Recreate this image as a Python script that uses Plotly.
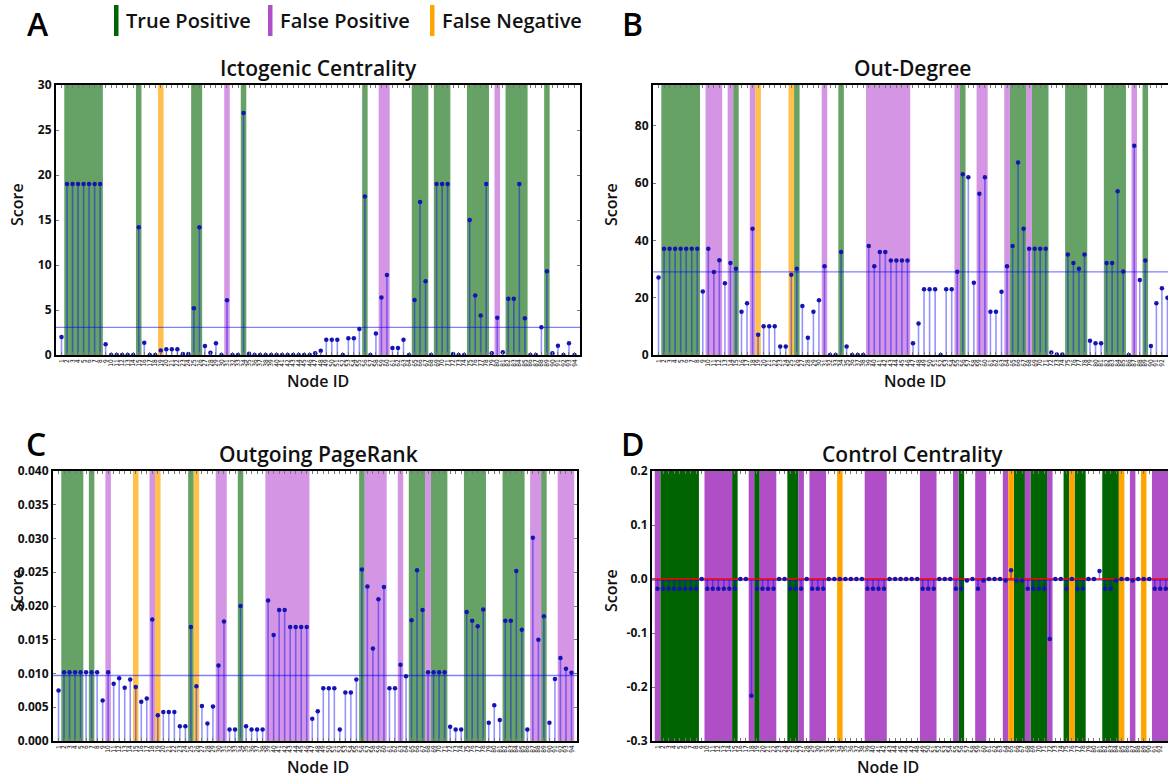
import plotly.graph_objects as go

# ---------------- data ----------------
NODE_IDS = ["1", "2", "3", "4", "5", "6", "7", "8", "9", "10", "11", "12", "13", "14", "15", "16",
            "17", "18", "19", "20", "21", "22", "23", "24", "25", "26", "27", "28", "29", "30", "31",
            "32", "33", "34", "35", "36", "37", "38", "39", "40", "41", "42", "43", "44", "45", "46",
            "47", "48", "49", "50", "51", "52", "53", "54", "55", "56", "57", "58", "59", "60", "61",
            "62", "63", "64", "65", "66", "67", "68", "69", "70", "71", "72", "73", "74", "75", "76",
            "77", "78", "79", "80", "81", "82", "83", "84", "85", "86", "87", "88", "89", "90", "91",
            "92", "93", "94"]

ICTOGENIC = [2.0, 19, 19, 19, 19, 19, 19, 19, 1.2, 0, 0, 0, 0, 0, 14.2, 1.35, 0, 0, 0.5, 0.63,
             0.63, 0.63, 0.1, 0.1, 5.2, 14.2, 1.0, 0.26, 1.3, 0, 6.07, 0, 0, 26.9, 0.15, 0, 0, 0,
             0, 0, 0, 0, 0, 0, 0, 0, 0.2, 0.48, 1.7, 1.7, 1.7, 0, 1.85, 1.85, 2.9, 17.6, 0, 2.4,
             6.4, 8.9, 0.78, 0.78, 1.7, 0, 6.1, 17.0, 8.2, 0, 19, 19, 19, 0.1, 0, 0, 15.0, 6.6,
             4.4, 19.0, 0.2, 4.15, 0.3, 6.26, 6.26, 19.0, 4.07, 0, 0, 3.07, 9.3, 0.2, 1.04, 0,
             1.3, 0]
ICTO_TP = [1, 2, 3, 4, 5, 6, 7, 14, 24, 25, 33, 55, 64, 65, 66, 68, 69, 70, 74, 75, 76, 77,
           81, 82, 83, 84, 88]
ICTO_FP = [30, 58, 59, 79]
ICTO_FN = [18]
ICTO_THRESH = 3.07

OUTDEGREE = [27.1, 37.1, 37.1, 37.1, 37.1, 37.1, 37.1, 37.1, 22.2, 37.1, 29.0, 33.1, 25.1, 32.1,
             30.1, 15.1, 18.1, 44.1, 7.1, 10, 10, 10, 3, 3, 28, 30.1, 17.1, 6, 15.1, 19.1, 31, 0,
             0, 36, 3, 0, 0, 0, 38.1, 31, 36, 36, 33, 33, 33, 33, 4.1, 11, 23, 23, 23, 0, 23, 23,
             29.1, 63.1, 62.1, 25.2, 56.3, 62.1, 15.1, 15.1, 22.1, 31, 38.1, 67.2, 44.1, 37.1,
             37.1, 37.1, 37.1, 0.9, 0.2, 0.2, 35.1, 32.1, 30.1, 35.1, 5.0, 4.1, 4.1, 32.1, 32.1,
             57.2, 29.2, 0, 73.1, 26.2, 33, 3.1, 18.1, 23.3, 20.0, 14.0]
OUT_TP = [1, 2, 3, 4, 5, 6, 7, 14, 25, 33, 55, 64, 65, 66, 68, 69, 70, 74, 75, 76, 77, 81, 82,
          83, 84, 88]
OUT_FP = [9, 10, 11, 13, 17, 30, 38, 39, 40, 41, 42, 43, 44, 45, 54, 58, 59, 63, 67, 86]
OUT_FN = [18, 24]
OUT_THRESH = 29.0

PAGERANK = [0.0075, 0.0102, 0.0102, 0.0102, 0.0102, 0.0102, 0.0102, 0.0102, 0.0060, 0.0102,
            0.0085, 0.0093, 0.0079, 0.0091, 0.0080, 0.0058, 0.0063, 0.0180, 0.0038, 0.0043,
            0.0043, 0.0043, 0.0022, 0.0022, 0.0169, 0.0081, 0.0052, 0.0026, 0.0051, 0.0112,
            0.0177, 0.0017, 0.0017, 0.0200, 0.0022, 0.0017, 0.0017, 0.0017, 0.0208, 0.0157,
            0.0194, 0.0194, 0.0169, 0.0169, 0.0169, 0.0169, 0.0033, 0.0044, 0.0078, 0.0078,
            0.0078, 0.0017, 0.0072, 0.0072, 0.0091, 0.0254, 0.0229, 0.0137, 0.0210, 0.0228,
            0.0078, 0.0078, 0.0113, 0.0096, 0.0179, 0.0253, 0.0194, 0.0102, 0.0102, 0.0102,
            0.0102, 0.0021, 0.0017, 0.0017, 0.0191, 0.0178, 0.0170, 0.0195, 0.0027, 0.0053,
            0.0031, 0.0178, 0.0178, 0.0252, 0.0165, 0.0017, 0.0301, 0.0150, 0.0185, 0.0027,
            0.0092, 0.0123, 0.0107, 0.0101]
PR_TP = [1, 2, 3, 4, 6, 24, 33, 55, 64, 65, 66, 68, 69, 70, 74, 75, 76, 77, 81, 82, 83, 84, 88]
PR_FP = [9, 17, 29, 30, 38, 39, 40, 41, 42, 43, 44, 45, 56, 57, 58, 59, 62, 67, 86, 87, 91, 92, 93]
PR_FN = [14, 18, 25]
PR_THRESH = 0.0097

CONTROL = [-0.018, -0.018, -0.018, -0.018, -0.018, -0.018, -0.018, -0.018, 0, -0.018, -0.018,
           -0.018, -0.018, -0.018, -0.018, 0, 0, -0.216, -0.018, -0.018, -0.018, -0.018, 0, 0,
           -0.018, -0.018, -0.018, 0, -0.018, -0.018, -0.018, 0, 0, 0, 0, 0, 0, 0, -0.018,
           -0.018, -0.018, -0.018, 0, 0, 0, 0, 0, 0, -0.018, -0.018, -0.018, 0, 0, 0, -0.018,
           -0.018, -0.003, 0, -0.018, -0.003, 0, 0, 0, -0.003, 0.016, -0.003, -0.003, -0.018,
           -0.018, -0.018, -0.018, -0.111, 0, 0, -0.018, 0, -0.018, -0.018, 0, 0, 0.015,
           -0.018, -0.018, -0.003, 0, 0, -0.003, 0, 0, 0, -0.018, -0.018, -0.018, -0.018]
CC_TP = [1, 2, 3, 4, 5, 6, 7, 14, 18, 24, 25, 55, 65, 66, 68, 69, 70, 74, 76, 77, 81, 82, 83]
CC_FP = [0, 9, 10, 11, 12, 13, 17, 19, 20, 21, 26, 28, 29, 30, 38, 39, 40, 41, 48, 49, 50, 54,
         58, 59, 63, 67, 71, 86, 90, 91, 92, 93]
CC_FN = [33, 64, 75, 84, 88]
CC_THRESH = -0.002

TITLES = ["Ictogenic Centrality", "Out-Degree", "Outgoing PageRank", "Control Centrality"]
LETTERS = ["A", "B", "C", "D"]
LEGEND_LABELS = ["True Positive", "False Positive", "False Negative"]

# ---------------- styling ----------------
W, H = 1168, 777
FONT = "Open Sans"
SOFT = {"TP": "rgba(0,100,0,0.6)", "FP": "rgba(186,85,211,0.62)", "FN": "rgba(255,165,0,0.7)"}
SOLID = {"TP": "rgb(0,100,0)", "FP": "rgb(176,78,200)", "FN": "rgb(255,165,0)"}


def px2x(p):
    return p / W


def px2y(p):
    return 1 - p / H


def runs(indices):
    """group sorted node indices into contiguous runs"""
    out = []
    for i in sorted(indices):
        if out and i == out[-1][1] + 1:
            out[-1][1] = i
        else:
            out.append([i, i])
    return out


panels = [
    dict(vals=ICTOGENIC, tp=ICTO_TP, fp=ICTO_FP, fn=ICTO_FN, th=ICTO_THRESH,
         xd=(56, 580), yd=(85, 355), xr=[-1, 94], yr=[0, 30],
         ytick=dict(tickvals=[0, 5, 10, 15, 20, 25, 30]), colors=SOFT, cut=False, base=False),
    dict(vals=OUTDEGREE, tp=OUT_TP, fp=OUT_FP, fn=OUT_FN, th=OUT_THRESH,
         xd=(653, 1168), yd=(85, 355), xr=[-1, 92.1], yr=[0, 94.3],
         ytick=dict(tickvals=[0, 20, 40, 60, 80]), colors=SOFT, cut=True, base=False),
    dict(vals=PAGERANK, tp=PR_TP, fp=PR_FP, fn=PR_FN, th=PR_THRESH,
         xd=(53, 577), yd=(471, 741), xr=[-1, 94], yr=[0, 0.04],
         ytick=dict(tickvals=[0, 0.005, 0.01, 0.015, 0.02, 0.025, 0.03, 0.035, 0.04],
                    tickformat=".3f"), colors=SOFT, cut=False, base=False),
    dict(vals=CONTROL, tp=CC_TP, fp=CC_FP, fn=CC_FN, th=CC_THRESH,
         xd=(652, 1168), yd=(471, 741), xr=[-1, 92.4], yr=[-0.3, 0.2],
         ytick=dict(tickvals=[-0.3, -0.2, -0.1, 0.0, 0.1, 0.2],
                    ticktext=["-0.3", "-0.2", "-0.1", "0.0", "0.1", "0.2"]),
         colors=SOLID, cut=True, base=True),
]

fig = go.Figure()
shapes = []
annotations = []

for k, p in enumerate(panels):
    n = k + 1
    xa = "x" if n == 1 else f"x{n}"
    ya = "y" if n == 1 else f"y{n}"
    xkey = "xaxis" if n == 1 else f"xaxis{n}"
    ykey = "yaxis" if n == 1 else f"yaxis{n}"
    vals = p["vals"]
    idx = list(range(len(vals)))

    # background class bands
    for cls, lst in (("TP", p["tp"]), ("FP", p["fp"]), ("FN", p["fn"])):
        for a, b in runs(lst):
            shapes.append(dict(type="rect", xref=xa, yref=f"{ya} domain", x0=a - 0.5, x1=b + 0.5,
                               y0=0, y1=1, fillcolor=p["colors"][cls], line=dict(width=0),
                               layer="below"))

    # stems
    sx, sy = [], []
    for i, v in zip(idx, vals):
        sx += [i, i, None]
        sy += [0, v, None]
    fig.add_trace(go.Scatter(x=sx, y=sy, mode="lines", xaxis=xa, yaxis=ya, hoverinfo="skip",
                             line=dict(color="rgba(0,0,255,0.42)", width=1.6), showlegend=False))
    # threshold line
    fig.add_trace(go.Scatter(x=[p["xr"][0], p["xr"][1] + 3], y=[p["th"], p["th"]], mode="lines",
                             xaxis=xa, yaxis=ya, line=dict(color="rgba(0,0,255,0.5)", width=1.3),
                             showlegend=False, hoverinfo="skip"))
    # red baseline (visible only where zero is inside the plot)
    if p["base"]:
        fig.add_trace(go.Scatter(x=[p["xr"][0], p["xr"][1] + 3], y=[0, 0], mode="lines",
                                 xaxis=xa, yaxis=ya, line=dict(color="red", width=1.6),
                                 showlegend=False, hoverinfo="skip"))
    # markers
    fig.add_trace(go.Scatter(x=idx, y=vals, mode="markers", xaxis=xa, yaxis=ya,
                             marker=dict(color="#1414b4", size=4.5), showlegend=False,
                             cliponaxis=True))

    fig.layout[xkey] = dict(
        domain=[px2x(p["xd"][0]), px2x(p["xd"][1])], anchor=ya, range=p["xr"],
        tickmode="array", tickvals=idx, ticktext=NODE_IDS, tickangle=-90,
        tickfont=dict(size=6.5, color="#000", family="DejaVu Sans Condensed"),
        ticks="inside", ticklen=3, tickcolor="#777", tickwidth=1,
        showline=True, linecolor="black", linewidth=1.5,
        mirror="allticks", showgrid=False, zeroline=False, automargin=False,
    )
    ycfg = dict(
        domain=[px2y(p["yd"][1]), px2y(p["yd"][0])], anchor=xa, range=p["yr"],
        tickmode="array", ticks="inside", ticklen=3, tickcolor="#777",
        showline=True, linecolor="black", linewidth=2,
        mirror=False if p["cut"] else "ticks", showgrid=False, zeroline=False,
        automargin=False,
        tickfont=dict(size=12, color="#111", family=FONT, weight=700),
    )
    ycfg.update(p["ytick"])
    fig.layout[ykey] = ycfg

    x0, x1 = p["xd"]
    y0, y1 = p["yd"]
    # title
    annotations.append(dict(text=TITLES[k], xref="paper", yref="paper",
                            x=px2x(318 if k % 2 == 0 else 912), y=px2y(y0 - 17),
                            showarrow=False, xanchor="center", yanchor="middle",
                            font=dict(size=21, family=FONT, color="#111", weight=600)))
    # x axis title
    annotations.append(dict(text="Node ID", xref="paper", yref="paper",
                            x=px2x(318 if k % 2 == 0 else (915 if k == 1 else 888)),
                            y=px2y(y1 + 26), showarrow=False, xanchor="center",
                            yanchor="middle",
                            font=dict(size=16, family=FONT, color="#111", weight=600)))
    # y axis title
    annotations.append(dict(text="Score", xref="paper", yref="paper",
                            x=px2x(17 if k % 2 == 0 else 611),
                            y=px2y(y0 + 120), showarrow=False, textangle=-90,
                            xanchor="center", yanchor="middle",
                            font=dict(size=16, family=FONT, color="#111", weight=600)))

# panel letters
for k, (lx, ly) in enumerate([(38, 23), (632, 23), (36, 443), (632, 443)]):
    annotations.append(dict(text=LETTERS[k], xref="paper", yref="paper", x=px2x(lx), y=px2y(ly),
                            showarrow=False, xanchor="center", yanchor="middle",
                            font=dict(size=32, family=FONT, color="black", weight=600)))

# legend
for lbl, bx, cls in zip(LEGEND_LABELS, [114, 268, 430], ["TP", "FP", "FN"]):
    shapes.append(dict(type="rect", xref="paper", yref="paper", x0=px2x(bx), x1=px2x(bx + 4.5),
                       y0=px2y(36), y1=px2y(5), fillcolor=SOLID[cls], line=dict(width=0)))
    annotations.append(dict(text=lbl, xref="paper", yref="paper", x=px2x(bx + 10), y=px2y(20),
                            showarrow=False, xanchor="left", yanchor="middle",
                            font=dict(size=20, family=FONT, color="#111", weight=600)))

fig.update_layout(width=W, height=H, margin=dict(l=0, r=0, t=0, b=0),
                  paper_bgcolor="white", plot_bgcolor="white",
                  shapes=shapes, annotations=annotations, showlegend=False,
                  font=dict(family=FONT))

fig.write_html("out.html", config={"displayModeBar": False},
               post_script="document.body.style.margin='0';document.body.style.overflow='hidden';")
